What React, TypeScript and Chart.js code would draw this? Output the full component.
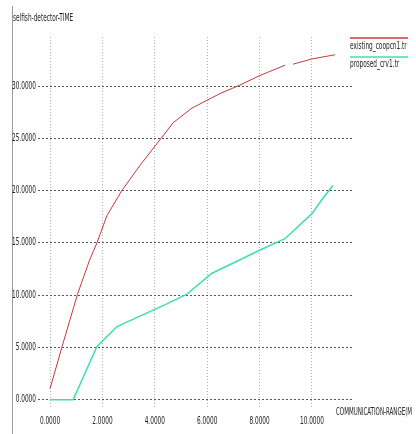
import React, { useEffect, useRef } from "react";
import { Chart, registerables } from "chart.js";

Chart.register(...registerables);

const existingX = [0, 0.45, 1.05, 1.5, 1.79, 2.17, 2.74, 3.43, 4.27, 4.7, 5.42, 6.5, 7.25, 8.0, 8.97, 9.12, 9.28, 10.0, 10.88];
const existingY = [1.06, 5.0, 10.1, 13.3, 15.0, 17.6, 20.0, 22.4, 25.1, 26.5, 27.9, 29.3, 30.1, 31.0, 32.0, null, 32.1, 32.6, 33.0];
const proposedX = [0, 0.88, 1.79, 2.56, 3.43, 4.4, 5.23, 6.18, 7.1, 8.0, 8.97, 10.0, 10.4, 10.8];
const proposedY = [0, 0, 5.1, 7.0, 8.0, 9.1, 10.1, 12.1, 13.2, 14.3, 15.4, 17.8, 19.2, 20.5];
const xTicks = [0, 2, 4, 6, 8, 10];
const yTicks = [0, 5, 10, 15, 20, 25, 30];
const seriesNames = ["existing_coopcn1.tr", "proposed_crv1.tr"];
const titleText = "selfish-detector-TIME";
const xAxisTitle = "COMMUNICATION-RANGE(M";

const FONT = '10px "DejaVu Sans", sans-serif';
const SQUEEZE = 0.58;
const RED = "#c8383c";
const GREEN = "#3fe0a8";

function narrowText(ctx: any, text: string, x: number, y: number, align: string, sq = SQUEEZE) {
  ctx.save();
  ctx.translate(x, y);
  ctx.scale(sq, 1);
  ctx.textAlign = align;
  ctx.fillText(text, 0, 0);
  ctx.restore();
}

const decorPlugin = {
  id: "decor",
  afterDraw(chart: any) {
    const ctx = chart.ctx;
    ctx.save();
    ctx.strokeStyle = "#9a9a9a";
    ctx.lineWidth = 1;
    ctx.beginPath();
    ctx.moveTo(12.5, 6);
    ctx.lineTo(12.5, 434);
    ctx.stroke();
    ctx.fillStyle = "#222";
    ctx.font = FONT;
    ctx.textBaseline = "middle";
    narrowText(ctx, titleText, 13, 18, "left");
    const xs = chart.scales.x;
    const ys = chart.scales.y;
    xTicks.forEach((v) => narrowText(ctx, v.toFixed(4), xs.getPixelForValue(v), 421, "center"));
    yTicks.forEach((v) => narrowText(ctx, v.toFixed(4), 36, ys.getPixelForValue(v), "right"));
    ctx.strokeStyle = RED;
    ctx.lineWidth = 1.5;
    ctx.beginPath();
    ctx.moveTo(350, 38);
    ctx.lineTo(408, 38);
    ctx.stroke();
    narrowText(ctx, seriesNames[0], 350, 46, "left");
    ctx.strokeStyle = GREEN;
    ctx.beginPath();
    ctx.moveTo(350, 57);
    ctx.lineTo(408, 57);
    ctx.stroke();
    narrowText(ctx, seriesNames[1], 350, 64, "left");
    narrowText(ctx, xAxisTitle, 336, 412, "left", 0.55);
    ctx.restore();
  },
};

export default function App() {
  const ref = useRef<HTMLCanvasElement>(null);
  useEffect(() => {
    if (!ref.current) return;
    const chart = new Chart(ref.current, {
      type: "line",
      data: {
        datasets: [
          {
            label: seriesNames[0],
            data: existingX.map((x, i) => ({ x, y: existingY[i] })),
            borderColor: RED,
            borderWidth: 1,
            pointRadius: 0,
            tension: 0,
            spanGaps: false,
          },
          {
            label: seriesNames[1],
            data: proposedX.map((x, i) => ({ x, y: proposedY[i] })),
            borderColor: GREEN,
            borderWidth: 1.5,
            pointRadius: 0,
            tension: 0,
          },
        ],
      },
      options: {
        animation: false,
        responsive: false,
        layout: { padding: { top: 37, right: 64, left: 0, bottom: 0 } },
        plugins: { legend: { display: false }, tooltip: { enabled: false } },
        scales: {
          x: {
            type: "linear",
            min: -0.46,
            max: 11.53,
            afterBuildTicks: (s: any) => {
              s.ticks = xTicks.map((v) => ({ value: v }));
            },
            afterFit: (s: any) => {
              s.height = 27;
            },
            grid: { color: "#b0b0b0", lineWidth: 1, drawTicks: false },
            border: { display: false, dash: [1, 2] },
            ticks: { display: false },
          },
          y: {
            type: "linear",
            min: -0.7,
            max: 34.7,
            afterBuildTicks: (s: any) => {
              s.ticks = yTicks.map((v) => ({ value: v }));
            },
            afterFit: (s: any) => {
              s.width = 38;
            },
            grid: { color: "#555", lineWidth: 1, drawTicks: false },
            border: { display: false, dash: [2, 2] },
            ticks: { display: false },
          },
        },
      },
      plugins: [decorPlugin],
    } as any);
    return () => chart.destroy();
  }, []);
  return (
    <div style={{ position: "absolute", left: 0, top: 0, width: 416, height: 434, background: "#fff" }}>
      <canvas ref={ref} width={416} height={434} />
    </div>
  );
}
